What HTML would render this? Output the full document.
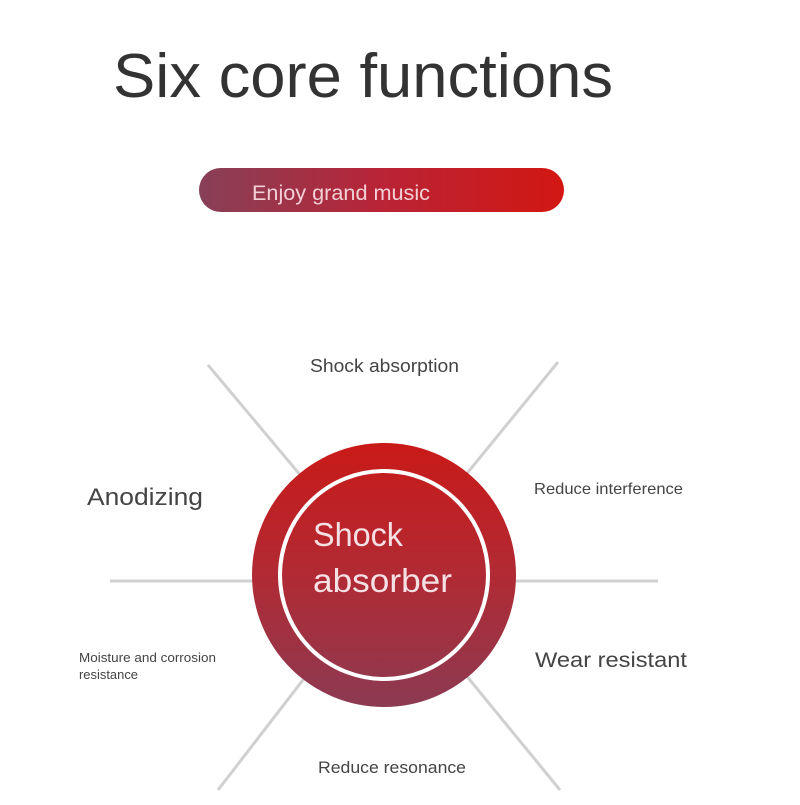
<!DOCTYPE html>
<html><head><meta charset="utf-8"><style>
body{margin:0;width:800px;height:800px;background:#fff;overflow:hidden;font-family:"Liberation Sans",sans-serif;}
</style></head><body>
<svg width="800" height="800" viewBox="0 0 800 800" xmlns="http://www.w3.org/2000/svg">
<defs>
<linearGradient id="pill" x1="0" y1="0" x2="1" y2="0">
<stop offset="0" stop-color="#874058"/><stop offset="0.5" stop-color="#b92436"/><stop offset="1" stop-color="#d21712"/>
</linearGradient>
<linearGradient id="circ" x1="0" y1="0" x2="0" y2="1">
<stop offset="0" stop-color="#c91a18"/><stop offset="0.5" stop-color="#b12a34"/><stop offset="1" stop-color="#8c3a52"/>
</linearGradient>
</defs>
<text x="113" y="97" font-size="62" fill="#333" textLength="500" lengthAdjust="spacingAndGlyphs">Six core functions</text>
<rect x="199" y="168" width="365" height="44" rx="22" fill="url(#pill)"/>
<text x="252" y="200" font-size="21" fill="#f2d0d6" textLength="178" lengthAdjust="spacingAndGlyphs">Enjoy grand music</text>
<g stroke="#d0d0d0" stroke-width="3">
<line x1="208" y1="365" x2="384" y2="575"/>
<line x1="558" y1="362" x2="384" y2="575"/>
<line x1="110" y1="581" x2="658" y2="581"/>
<line x1="218" y1="790" x2="384" y2="575"/>
<line x1="560" y1="790" x2="384" y2="575"/>
</g>
<circle cx="384" cy="575" r="132" fill="url(#circ)"/>
<circle cx="384" cy="575" r="104" fill="none" stroke="#fff" stroke-width="4"/>
<text x="313" y="546" font-size="33" fill="#f5e0e4" textLength="90" lengthAdjust="spacingAndGlyphs">Shock</text>
<text x="313" y="592" font-size="33" fill="#f5e0e4" textLength="139" lengthAdjust="spacingAndGlyphs">absorber</text>
<g fill="#444">
<text x="310" y="372" font-size="18" textLength="149" lengthAdjust="spacingAndGlyphs">Shock absorption</text>
<text x="87" y="505" font-size="24" textLength="116" lengthAdjust="spacingAndGlyphs">Anodizing</text>
<text x="534" y="494" font-size="16" textLength="149" lengthAdjust="spacingAndGlyphs">Reduce interference</text>
<text x="535" y="667" font-size="21" textLength="152" lengthAdjust="spacingAndGlyphs">Wear resistant</text>
<text x="79" y="662" font-size="12.5" textLength="137" lengthAdjust="spacingAndGlyphs">Moisture and corrosion</text>
<text x="79" y="679" font-size="12.5" textLength="59" lengthAdjust="spacingAndGlyphs">resistance</text>
<text x="318" y="773" font-size="17" textLength="148" lengthAdjust="spacingAndGlyphs">Reduce resonance</text>
</g>
</svg>
</body></html>
